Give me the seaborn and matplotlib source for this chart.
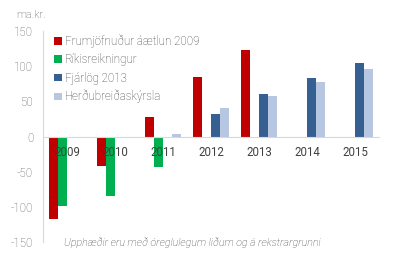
import matplotlib
matplotlib.use("Agg")
import matplotlib.pyplot as plt
import seaborn as sns
import pandas as pd
import numpy as np

years = ["2009", "2010", "2011", "2012", "2013", "2014", "2015"]
series = ["Frumjöfnuður áætlun 2009", "Ríkisreikningur", "Fjárlög 2013", "Herðubreiðaskýrsla"]
frumjofnudur = [-117, -42, 28, 84, 123, None, None]
rikisreikningur = [-99, -85, -43, None, None, None, None]
fjarlog = [None, None, None, 32, 60, 83, 105]
herdubreid = [None, None, 3, 40, 57, 78, 96]
colors = ["#C00000", "#00B050", "#376092", "#B7C6E1"]
yticks = [-150, -100, -50, 0, 50, 100, 150]

rows = []
for name, vals in zip(series, [frumjofnudur, rikisreikningur, fjarlog, herdubreid]):
    for y, v in zip(years, vals):
        if v is not None:
            rows.append({"year": y, "series": name, "value": v})
df = pd.DataFrame(rows)

sns.set_style("white")
plt.rcParams["font.family"] = ["Roboto", "DejaVu Sans"]
plt.rcParams["font.weight"] = "light"

fig = plt.figure(figsize=(3.95, 2.59), dpi=100)
ax = fig.add_axes([43/395, 1-242/259, 336/395, 211/259])

sns.barplot(data=df, x="year", y="value", hue="series", order=years,
            hue_order=series, palette=colors, width=0.75, ax=ax,
            linewidth=0, errorbar=None, saturation=1)

ax.set_xlim(-0.5, 6.5)
ax.set_ylim(-150, 150)
ax.set_yticks(yticks)
ax.set_yticklabels([str(v) for v in yticks])
ax.set_xlabel("")
ax.set_ylabel("")

for s in ["top", "right"]:
    ax.spines[s].set_visible(False)
ax.spines["left"].set_color("#D9D9D9")
ax.spines["left"].set_linewidth(0.8)
ax.spines["bottom"].set_position(("data", 0))
ax.spines["bottom"].set_color("#D9D9D9")
ax.spines["bottom"].set_linewidth(0.8)

ax.tick_params(axis="y", length=0, pad=7, labelsize=8.3, labelcolor="#595959")
ax.tick_params(axis="x", which="major", length=0, labelbottom=False)
ax.set_xticks(np.arange(-0.5, 7.0, 1.0), minor=True)
ax.tick_params(axis="x", which="minor", direction="in", length=3, color="#D9D9D9", width=0.8)

# year labels drawn on top of the bars, at the category tick positions
for pos, lab in zip(ax.get_xticks(), years):
    ax.annotate(lab, xy=(pos, 0), xycoords="data", xytext=(0, -6.5),
                textcoords="offset points", ha="center", va="top",
                fontsize=8.3, color="#404040", fontweight="normal",
                zorder=10, annotation_clip=False)

leg = ax.legend(loc="upper left", bbox_to_anchor=(0.02, 1.005), frameon=False,
                fontsize=8.3, handlelength=0.65, handleheight=0.65,
                handletextpad=0.3, labelspacing=0.45, borderaxespad=0)
for t in leg.get_texts():
    t.set_color("#404040")

fig.text(16/395, 1-15/259, "ma.kr.", fontsize=8, color="#595959", va="center", ha="left")
fig.text(192/395, 1-242/259, "Upphæðir eru með óreglulegum liðum og á rekstrargrunni",
         fontsize=7.7, style="italic", color="#404040", ha="center", va="center")

fig.savefig("out.png", dpi=100)
